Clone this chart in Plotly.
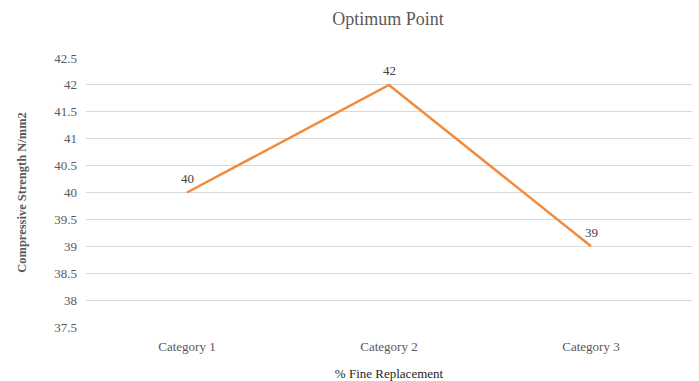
import plotly.graph_objects as go

categories = ["Category 1", "Category 2", "Category 3"]
values = [40, 42, 39]
y_ticks = [37.5, 38, 38.5, 39, 39.5, 40, 40.5, 41, 41.5, 42, 42.5]

font_family = "Times New Roman, Liberation Serif, serif"
grey = "#595959"

fig = go.Figure()
fig.add_trace(go.Scatter(
    x=categories, y=values, mode="lines",
    line=dict(color="#F28A3C", width=2.5),
    showlegend=False, hoverinfo="x+y",
))

for c, v in zip(categories, values):
    fig.add_annotation(x=c, y=v, text=str(v), showarrow=False, yshift=14,
                       font=dict(family=font_family, size=13, color="#404040"))

fig.update_layout(
    width=699, height=381,
    margin=dict(l=86, r=7, t=58, b=54, autoexpand=False),
    paper_bgcolor="white", plot_bgcolor="white",
    font=dict(family=font_family, color=grey),
    title=dict(text="Optimum Point", x=0.555, xanchor="center", y=0.952, yanchor="middle",
               font=dict(size=18, color=grey, family=font_family)),
    xaxis=dict(
        title=dict(text="% Fine Replacement", font=dict(size=13, color="#262626", family=font_family), standoff=16),
        tickfont=dict(size=13, color=grey, family=font_family),
        showgrid=False, showline=False, zeroline=False, ticks="",
        ticklabelstandoff=10, automargin=False,
        range=[-0.5, 2.5],
    ),
    yaxis=dict(
        title=dict(text="<b>Compressive Strength N/mm2</b>", font=dict(size=12.5, color=grey, family=font_family), standoff=24),
        tickvals=y_ticks, ticktext=[f"{v:g}" for v in y_ticks],
        range=[37.5, 42.5],
        tickfont=dict(size=13, color=grey, family=font_family),
        ticklabelstandoff=8, automargin=False,
        showgrid=True, gridcolor="#D9D9D9", gridwidth=1,
        zeroline=False, showline=False, ticks="", ticklen=0,
    ),
)

fig.write_html("out.html")
